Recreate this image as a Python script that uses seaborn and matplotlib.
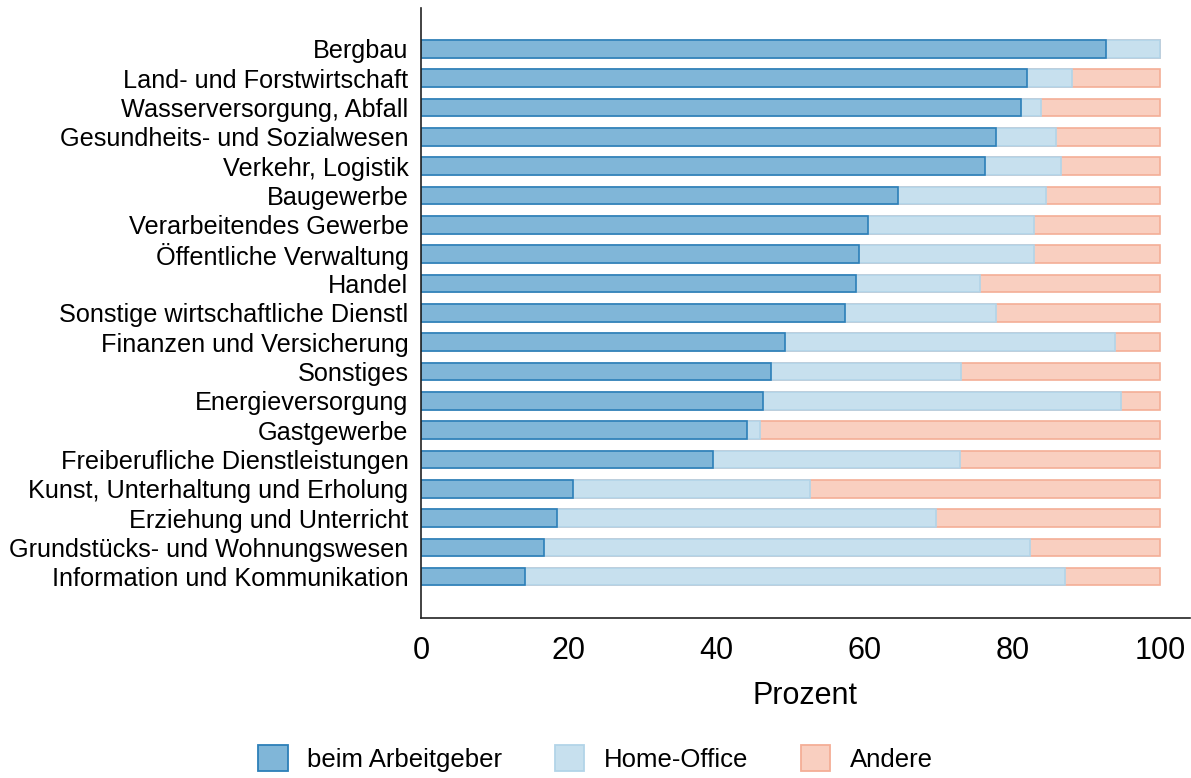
import numpy as np
import pandas as pd
import matplotlib
matplotlib.use('Agg')
import matplotlib.pyplot as plt
import seaborn as sns
from matplotlib.patches import Patch

# Branchen (von oben nach unten)
branchen = [
    'Bergbau', 'Land- und Forstwirtschaft', 'Wasserversorgung, Abfall',
    'Gesundheits- und Sozialwesen', 'Verkehr, Logistik', 'Baugewerbe',
    'Verarbeitendes Gewerbe', 'Öffentliche Verwaltung', 'Handel',
    'Sonstige wirtschaftliche Dienstl', 'Finanzen und Versicherung',
    'Sonstiges', 'Energieversorgung', 'Gastgewerbe',
    'Freiberufliche Dienstleistungen', 'Kunst, Unterhaltung und Erholung',
    'Erziehung und Unterricht', 'Grundstücks- und Wohnungswesen',
    'Information und Kommunikation',
]
arbeitgeber = [92.6, 82.0, 81.1, 77.8, 76.3, 64.5, 60.4, 59.3, 58.9, 57.4,
               49.3, 47.4, 46.3, 44.1, 39.5, 20.6, 18.4, 16.6, 14.1]
home_office = [7.4, 6.1, 2.8, 8.1, 10.3, 20.1, 22.5, 23.6, 16.7, 20.4,
               44.6, 25.7, 48.4, 1.8, 33.4, 32.0, 51.2, 65.8, 73.0]
andere = [0.0, 11.9, 16.1, 14.1, 13.4, 15.4, 17.1, 17.1, 24.4, 22.2,
          6.1, 26.9, 5.3, 54.1, 27.1, 47.4, 30.4, 17.6, 12.9]

serien = ['beim Arbeitgeber', 'Home-Office', 'Andere']
farben = ['#80b6d8', '#c7e0ee', '#f9cfc0']
kanten = ['#2c7fb8', '#b2d4e8', '#f4ae96']

df = pd.DataFrame({'Branche': branchen, 'beim Arbeitgeber': arbeitgeber,
                   'Home-Office': home_office, 'Andere': andere})
df['kum_1'] = df['beim Arbeitgeber']
df['kum_2'] = df['kum_1'] + df['Home-Office']
df['kum_3'] = df['kum_2'] + df['Andere']

plt.rcParams['font.family'] = ['Liberation Sans', 'DejaVu Sans']

fig, ax = plt.subplots(figsize=(11.91, 7.78), dpi=100)
fig.subplots_adjust(left=0.3535, right=0.999, top=0.99, bottom=0.206)

# gestapelt: breiteste zuerst zeichnen
for spalte, farbe, kante in zip(['kum_3', 'kum_2', 'kum_1'], farben[::-1], kanten[::-1]):
    sns.barplot(data=df, x=spalte, y='Branche', orient='h', order=branchen,
                color=farbe, saturation=1, width=0.6, edgecolor=kante,
                linewidth=1.2, ax=ax)

ax.set_xlim(0, 104)
ax.set_ylim(len(branchen) - 1 + 1.4, -1.4)
ax.set_xticks([0, 20, 40, 60, 80, 100])
ax.tick_params(axis='x', length=0, pad=13, labelsize=22)
ax.tick_params(axis='y', length=0, pad=9, labelsize=18.2)
ax.set_xlabel('Prozent', fontsize=22, labelpad=11)
ax.set_ylabel('')
for s in ['top', 'right']:
    ax.spines[s].set_visible(False)
for s in ['left', 'bottom']:
    ax.spines[s].set_color('#222222')
    ax.spines[s].set_linewidth(1.2)

handles = [Patch(facecolor=f, edgecolor=k, linewidth=1.3, label=l)
           for f, k, l in zip(farben, kanten, serien)]
fig.legend(handles=handles, loc='lower center', bbox_to_anchor=(0.5, -0.022),
           ncol=3, frameon=False, fontsize=18.5, handlelength=1.15,
           handleheight=1.2, handletextpad=0.75, columnspacing=2.05)

fig.savefig('out.png', dpi=100)
